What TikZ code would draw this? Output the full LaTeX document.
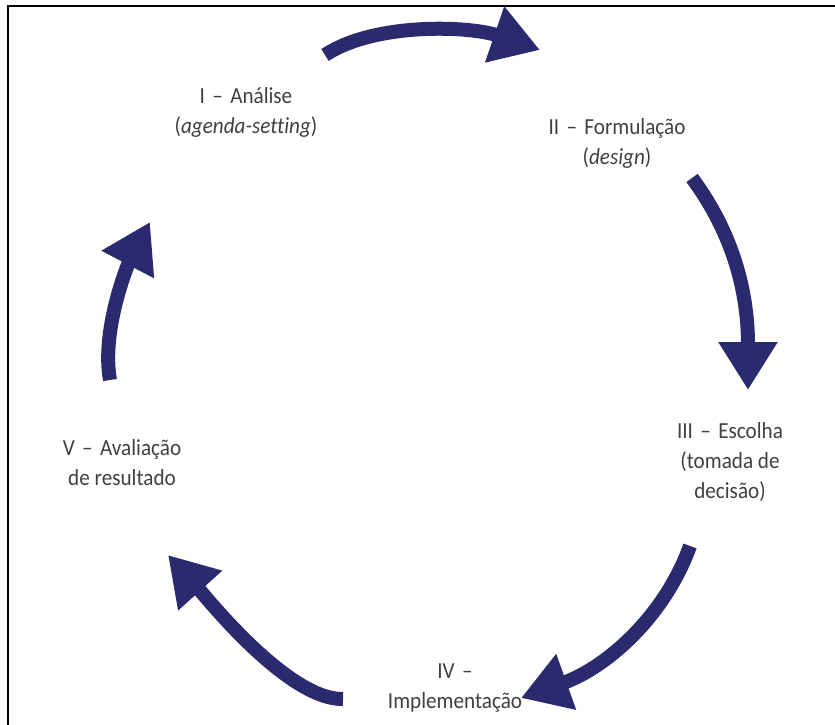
\documentclass[tikz,border=0pt]{standalone}
\usepackage{fontspec}
\setmainfont[Ligatures=NoCommon, FakeStretch=0.92]{Carlito}
\usetikzlibrary{arrows.meta}

\definecolor{cyclenavy}{RGB}{43,42,110}
\definecolor{labelgray}{RGB}{64,64,64}

% spaced en dash used in the stage titles
\newcommand{\stagedash}{\hspace{0.32em}–\hspace{0.32em}}

\tikzset{
  stage/.style={text=labelgray, align=center, font=\fontsize{23}{30}\selectfont, inner sep=0pt},
  cyclearrow/.style={draw=cyclenavy, line width=14pt, line cap=butt,
    -{Triangle[length=48pt,width=56pt]}},
  frameline/.style={draw=black, line width=2pt}
}

\begin{document}
\begin{tikzpicture}[x=1pt, y=-1pt]
  \useasboundingbox (0,0) rectangle (835,725);

  % partial frame
  \draw[frameline] (8,725) -- (8,6) -- (835,6);

  % stage labels
  \node[stage] (s1) at (246,112) {I\stagedash Análise\\(\textit{agenda-setting})};
  \node[stage] (s2) at (617,143) {II\stagedash Formulação\\(\textit{design})};
  \node[stage] (s3) at (730,462) {III\stagedash Escolha\\(tomada de\\decisão)};
  \node[stage] (s4) at (455,688) {IV\stagedash\\Implementação};
  \node[stage] (s5) at (122,463) {V\stagedash Avaliação\\de resultado};

  % arrow end points
  \coordinate (a1s) at (325,55);   \coordinate (a1e) at (540,50);
  \coordinate (a2s) at (692,178);  \coordinate (a2e) at (748,390);
  \coordinate (a3s) at (690,546);  \coordinate (a3e) at (521,698);
  \coordinate (a4s) at (343,699);  \coordinate (a4e) at (168,555);
  \coordinate (a5s) at (110,380);  \coordinate (a5e) at (150,222);

  % cycle arrows
  \draw[cyclearrow] (a1s) .. controls (375,22) and (470,26) .. (a1e);
  \draw[cyclearrow] (a2s) .. controls (732,232) and (748,290) .. (a2e);
  \draw[cyclearrow] (a3s) .. controls (664,618) and (605,668) .. (a3e);
  \draw[cyclearrow] (a4s) .. controls (288,700) and (206,597) .. (a4e);
  \draw[cyclearrow] (a5s) .. controls (101,330) and (128,264) .. (a5e);
\end{tikzpicture}
\end{document}
